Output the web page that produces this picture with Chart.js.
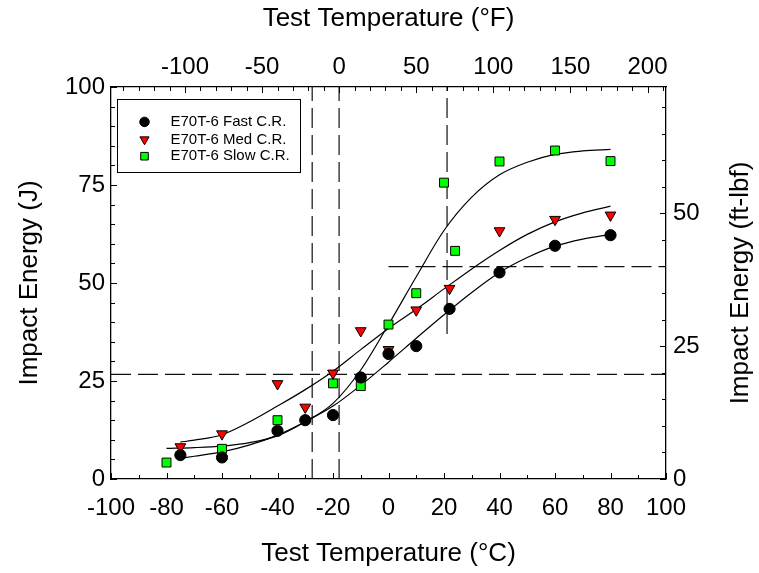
<!DOCTYPE html>
<html>
<head>
<meta charset="utf-8">
<script src="https://cdn.jsdelivr.net/npm/chart.js@4.4.0/dist/chart.umd.min.js"></script>
<style>
  html, body { margin: 0; padding: 0; background: #fff; }
  canvas { display: block; }
</style>
</head>
<body>
<canvas id="impactChart" width="759" height="573"></canvas>
<script>
// measured points (temperature in C, energy in J)
const fastTemp = [-75, -60, -40, -30, -20, -10, 0, 10, 22, 40, 60, 80];
const fastJ    = [6.1, 5.5, 12.3, 15.0, 16.3, 25.9, 31.9, 33.9, 43.4, 52.7, 59.5, 62.2];
const medTemp  = [-75, -60, -40, -30, -20, -10, 0, 10, 22, 40, 60, 80];
const medJ     = [8.2, 11.5, 24.3, 18.3, 27.0, 37.8, 33.0, 43.1, 48.6, 63.3, 66.2, 67.3];
const slowTemp = [-80, -60, -40, -20, -10, 0, 10, 20, 24, 40, 60, 80];
const slowJ    = [4.2, 7.7, 15.0, 24.4, 23.7, 39.4, 47.4, 75.6, 58.2, 81.0, 83.8, 81.1];

// fitted curves
const fastFitTemp = [-75, -70, -60, -50, -40, -30, -20, -10, 0, 10, 20, 30, 40, 50, 60, 70, 80];
const fastFitJ    = [5.3, 5.8, 6.9, 8.7, 11.2, 14.6, 18.6, 23.9, 29.8, 35.9, 41.9, 47.6, 52.7, 56.5, 59.4, 61.2, 62.4];
const medFitTemp  = [-75, -70, -60, -50, -40, -30, -20, -10, 0, 10, 20, 30, 40, 50, 60, 70, 80];
const medFitJ     = [9.4, 9.9, 11.3, 14.6, 18.6, 22.8, 27.5, 33.0, 38.4, 43.3, 48.5, 53.6, 58.3, 62.4, 65.6, 67.9, 69.6];
const slowFitTemp = [-80, -70, -60, -50, -40, -30, -20, -10, 0, 10, 20, 30, 40, 50, 60, 70, 80];
const slowFitJ    = [7.8, 8.0, 8.4, 9.3, 11.0, 14.6, 19.3, 27.8, 39.4, 51.6, 63.4, 71.9, 77.6, 80.8, 82.8, 83.7, 84.1];

const seriesLabels = ['E70T-6 Fast C.R.', 'E70T-6 Med C.R.', 'E70T-6 Slow C.R.'];

// dashed reference lines
const vLineTemp = [-27.5, -17.8, 21.1];
const vLineFrom = [0, 0, 37];
const vLineTo   = [100, 100, 100];
const hLineJ    = [26.7, 54.2];
const hLineFrom = [-100, 0];
const hLineTo   = [100, 100];

// axes
const cTicks = [-100, -80, -60, -40, -20, 0, 20, 40, 60, 80, 100];
const cMinor = [-90, -70, -50, -30, -10, 10, 30, 50, 70, 90];
const fTicks = [-100, -50, 0, 50, 100, 150, 200];
const fMinor = [-140, -130, -120, -110, -90, -80, -70, -60, -40, -30, -20, -10,
                10, 20, 30, 40, 60, 70, 80, 90, 110, 120, 130, 140, 160, 170, 180, 190, 210];
const jTicks = [0, 25, 50, 75, 100];
const jMinor = [5, 10, 15, 20, 30, 35, 40, 45, 55, 60, 65, 70, 80, 85, 90, 95];
const ftlbTicks = [0, 25, 50];
const ftlbMinor = [5, 10, 15, 20, 30, 35, 40, 45, 55, 60, 65, 70];

const J_PER_FTLB = 1.3558;
const FONT = '"Liberation Sans", Arial, sans-serif';

function pts(xs, ys) {
    return xs.map((x, i) => ({ x: x, y: ys[i] }));
}

const datasets = [];

// markers on top
datasets.push({
    label: seriesLabels[0], data: pts(fastTemp, fastJ), order: 0,
    pointStyle: 'circle', pointRadius: 5.6, backgroundColor: '#000', borderColor: '#000', borderWidth: 1,
    showLine: false
});
datasets.push({
    label: seriesLabels[1], data: pts(medTemp, medJ), order: 0,
    pointStyle: 'triangle', pointRotation: 180, pointRadius: 6.2, backgroundColor: '#ff0000', borderColor: '#000', borderWidth: 1,
    showLine: false
});
datasets.push({
    label: seriesLabels[2], data: pts(slowTemp, slowJ), order: 0,
    pointStyle: 'rect', pointRadius: 6.3, backgroundColor: '#00ff00', borderColor: '#000', borderWidth: 1,
    showLine: false
});

// fit curves
[[fastFitTemp, fastFitJ], [medFitTemp, medFitJ], [slowFitTemp, slowFitJ]].forEach(c => {
    datasets.push({
        label: 'fit', data: pts(c[0], c[1]), order: 1,
        showLine: true, pointRadius: 0, borderColor: '#000', borderWidth: 1.2,
        cubicInterpolationMode: 'monotone', fill: false
    });
});

// reference lines
vLineTemp.forEach((t, i) => {
    datasets.push({
        label: 'ref', data: [{ x: t, y: vLineFrom[i] }, { x: t, y: vLineTo[i] }], order: 2,
        showLine: true, pointRadius: 0, borderColor: '#111', borderWidth: 1.2, borderDash: [20, 7]
    });
});
hLineJ.forEach((e, i) => {
    datasets.push({
        label: 'ref', data: [{ x: hLineFrom[i], y: e }, { x: hLineTo[i], y: e }], order: 2,
        showLine: true, pointRadius: 0, borderColor: '#111', borderWidth: 1.2, borderDash: [20, 7]
    });
});

function setTicks(values) {
    return function(scale) {
        scale.ticks = values.map(v => ({ value: v }));
    };
}

// tick marks pointing into the plot
const innerTicks = {
    id: 'innerTicks',
    afterDraw(chart) {
        const ctx = chart.ctx;
        const a = chart.chartArea;
        const s = chart.scales;
        ctx.save();
        ctx.strokeStyle = '#000';
        ctx.lineWidth = 1;
        ctx.beginPath();
        const horiz = (scale, vals, len, y, dir) => {
            vals.forEach(v => {
                const px = Math.round(scale.getPixelForValue(v)) + 0.5;
                ctx.moveTo(px, y);
                ctx.lineTo(px, y + dir * len);
            });
        };
        const vert = (scale, vals, len, x, dir) => {
            vals.forEach(v => {
                const py = Math.round(scale.getPixelForValue(v)) + 0.5;
                ctx.moveTo(x, py);
                ctx.lineTo(x + dir * len, py);
            });
        };
        horiz(s.x, cTicks, 6, a.bottom, -1);
        horiz(s.x, cMinor, 4, a.bottom, -1);
        horiz(s.x2, fTicks, 6, a.top, 1);
        horiz(s.x2, fMinor, 4, a.top, 1);
        vert(s.y, jTicks, 6, a.left, 1);
        vert(s.y, jMinor, 4, a.left, 1);
        vert(s.y2, ftlbTicks, 6, a.right, -1);
        vert(s.y2, ftlbMinor, 4, a.right, -1);
        ctx.stroke();
        ctx.restore();
    }
};

// right axis title reads bottom-to-top like the left one
const rightTitle = {
    id: 'rightTitle',
    afterDraw(chart) {
        const ctx = chart.ctx;
        const a = chart.chartArea;
        ctx.save();
        ctx.translate(chart.width - 18, (a.top + a.bottom) / 2);
        ctx.rotate(-Math.PI / 2);
        ctx.font = '26px ' + FONT;
        ctx.fillStyle = '#000';
        ctx.textAlign = 'center';
        ctx.textBaseline = 'middle';
        ctx.fillText('Impact Energy (ft-lbf)', 0, 0);
        ctx.restore();
    }
};

// legend box inside the plot
const boxLegend = {
    id: 'boxLegend',
    afterDraw(chart) {
        const ctx = chart.ctx;
        const a = chart.chartArea;
        const bx = a.left + 6.5, by = a.top + 12.5, bw = 183, bh = 73;
        ctx.save();
        ctx.fillStyle = '#fff';
        ctx.fillRect(bx, by, bw, bh);
        ctx.strokeStyle = '#000';
        ctx.lineWidth = 1;
        ctx.strokeRect(bx, by, bw, bh);
        ctx.font = '15px ' + FONT;
        ctx.textBaseline = 'middle';
        ctx.textAlign = 'left';
        const rows = [22.4, 40, 56.7];
        for (let i = 0; i < 3; i++) {
            const ds = chart.data.datasets[i];
            const y = by + rows[i];
            ctx.fillStyle = ds.backgroundColor;
            ctx.strokeStyle = ds.borderColor;
            ctx.lineWidth = 1;
            Chart.helpers.drawPoint(ctx, {
                pointStyle: ds.pointStyle, rotation: ds.pointRotation || 0,
                radius: ds.pointRadius * 0.85, borderWidth: 1
            }, bx + 27, y);
            ctx.fillStyle = '#000';
            ctx.fillText(ds.label, bx + 53, y);
        }
        ctx.restore();
    }
};

const tickFont = { family: FONT, size: 24 };
const titleFont = { family: FONT, size: 26 };

new Chart(document.getElementById('impactChart'), {
    type: 'scatter',
    data: { datasets: datasets },
    options: {
        responsive: false,
        animation: false,
        devicePixelRatio: 1,
        layout: { padding: 0 },
        plugins: {
            legend: { display: false },
            tooltip: { enabled: false }
        },
        scales: {
            x: {
                type: 'linear', position: 'bottom', min: -100, max: 100,
                afterBuildTicks: setTicks(cTicks),
                afterFit(scale) { scale.height = 94; },
                grid: { display: false, drawTicks: false },
                border: { display: true, color: '#000', width: 1.3 },
                ticks: { font: tickFont, color: '#000', padding: 15, maxRotation: 0, autoSkip: false },
                title: { display: true, text: 'Test Temperature (°C)', font: titleFont, color: '#000', padding: { top: 0, bottom: 4 } }
            },
            x2: {
                type: 'linear', position: 'top', min: -148, max: 212,
                afterBuildTicks: setTicks(fTicks),
                afterFit(scale) { scale.height = 87; },
                grid: { display: false, drawTicks: false },
                border: { display: true, color: '#000', width: 1.3 },
                ticks: { font: tickFont, color: '#000', padding: 5, maxRotation: 0, autoSkip: false },
                title: { display: true, text: 'Test Temperature (°F)', font: titleFont, color: '#000', padding: { top: 3, bottom: 0 } }
            },
            y: {
                type: 'linear', position: 'left', min: 0, max: 100,
                afterBuildTicks: setTicks(jTicks),
                afterFit(scale) { scale.width = 111; },
                grid: { display: false, drawTicks: false },
                border: { display: true, color: '#000', width: 1.3 },
                ticks: { font: tickFont, color: '#000', padding: 6, autoSkip: false },
                title: { display: true, text: 'Impact Energy (J)', font: titleFont, color: '#000', padding: { top: 14, bottom: 0 } }
            },
            y2: {
                type: 'linear', position: 'right', min: 0, max: 100 / J_PER_FTLB,
                afterBuildTicks: setTicks(ftlbTicks),
                afterFit(scale) { scale.width = 93; },
                grid: { display: false, drawTicks: false },
                border: { display: true, color: '#000', width: 1.3 },
                ticks: { font: tickFont, color: '#000', padding: 7, autoSkip: false },
                title: { display: false }
            }
        }
    },
    plugins: [innerTicks, rightTitle, boxLegend]
});
</script>
</body>
</html>
